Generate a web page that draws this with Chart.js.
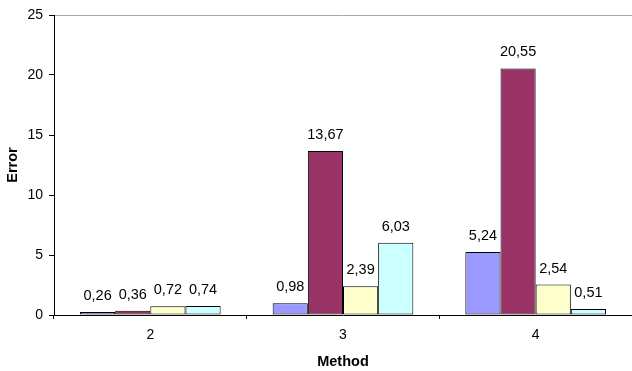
<!DOCTYPE html>
<html>
<head>
<meta charset="utf-8">
<script src="https://cdn.jsdelivr.net/npm/chart.js@4/dist/chart.umd.min.js"></script>
<style>
  html, body { margin: 0; padding: 0; background: #ffffff; }
  #wrap { width: 632px; height: 371px; }
</style>
</head>
<body>
<div id="wrap"><canvas id="c" width="632" height="371"></canvas></div>
<script>
// Error per method, four series
const methods = ['2', '3', '4'];
const seriesA = [0.26, 0.98, 5.24];
const seriesB = [0.36, 13.67, 20.55];
const seriesC = [0.72, 2.39, 2.54];
const seriesD = [0.74, 6.03, 0.51];
const yTicks = [0, 5, 10, 15, 20, 25];

const fontFamily = '"Liberation Sans", Arial, sans-serif';

// Writes each bar's value above it, with a decimal comma
const valueLabels = {
  id: 'valueLabels',
  afterDatasetsDraw(chart) {
    const ctx = chart.ctx;
    ctx.save();
    ctx.font = '14.5px ' + fontFamily;
    ctx.fillStyle = '#000';
    ctx.textAlign = 'center';
    ctx.textBaseline = 'middle';
    chart.data.datasets.forEach((ds, i) => {
      const meta = chart.getDatasetMeta(i);
      meta.data.forEach((bar, j) => {
        const txt = ds.data[j].toFixed(2).replace('.', ',');
        ctx.fillText(txt, bar.x, bar.y - 16);
      });
    });
    ctx.restore();
  }
};

const mk = (data, color) => ({
  data,
  backgroundColor: color,
  borderColor: '#000000',
  borderWidth: 1,
  borderSkipped: false,
  categoryPercentage: 0.73,
  barPercentage: 1.0
});

new Chart(document.getElementById('c'), {
  type: 'bar',
  data: {
    labels: methods,
    datasets: [
      mk(seriesA, '#9999FF'),
      mk(seriesB, '#993366'),
      mk(seriesC, '#FFFFCC'),
      mk(seriesD, '#CCFFFF')
    ]
  },
  options: {
    responsive: false,
    animation: false,
    layout: { padding: { top: 15, right: 0, left: 0, bottom: 0 } },
    plugins: { legend: { display: false }, tooltip: { enabled: false } },
    scales: {
      x: {
        grid: {
          offset: true,
          drawOnChartArea: false,
          tickLength: 4,
          tickColor: '#000'
        },
        border: { color: '#000', width: 1 },
        ticks: { color: '#000', font: { size: 14, family: fontFamily }, padding: 8 },
        title: {
          display: true,
          text: 'Method',
          color: '#000',
          font: { size: 14.5, weight: 'bold', family: fontFamily },
          padding: { top: 4, bottom: 0 }
        },
        afterFit(scale) { scale.height = 56; }
      },
      y: {
        min: 0,
        max: 25,
        afterBuildTicks(scale) { scale.ticks = yTicks.map(v => ({ value: v })); },
        grid: {
          color: (c) => (c.tick && c.tick.value === 25 ? '#a8a8a8' : 'rgba(0,0,0,0)'),
          tickColor: '#000',
          tickLength: 5,
          lineWidth: 1
        },
        border: { color: '#000', width: 1 },
        ticks: { color: '#000', font: { size: 14, family: fontFamily }, padding: 6 },
        title: {
          display: true,
          text: 'Error',
          color: '#000',
          font: { size: 14.5, weight: 'bold', family: fontFamily },
          padding: { top: 4, bottom: 0 }
        },
        afterFit(scale) { scale.width = 54; }
      }
    }
  },
  plugins: [valueLabels]
});
</script>
</body>
</html>
